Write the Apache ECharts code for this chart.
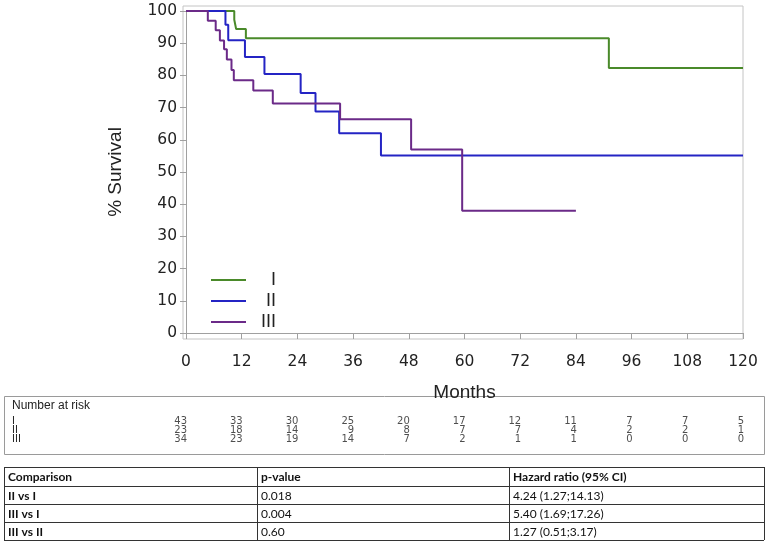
<!DOCTYPE html>
<html>
<head>
<meta charset="utf-8">
<script src="https://cdn.jsdelivr.net/npm/echarts@6/dist/echarts.min.js"></script>
<style>
html,body{margin:0;padding:0;background:#fff;}
#c{width:767px;height:542px;}
</style>
</head>
<body>
<div id="c"></div>
<script>
// ---- Data ----
const groups = ['I', 'II', 'III'];
const timesI = [0, 10.4, 10.8, 12.9, 91.1, 120];
const survI = [100, 97.3, 94.4, 91.5, 82.3, 82.3];
const timesII = [0, 8.5, 9.1, 12.7, 16.9, 24.7, 27.9, 33.0, 42.0, 120];
const survII = [100, 95.7, 90.9, 85.7, 80.4, 74.5, 68.8, 62.0, 55.1, 55.1];
const timesIII = [0, 4.7, 6.4, 7.3, 8.2, 8.8, 9.8, 10.3, 14.5, 18.7, 33.2, 48.5, 59.5, 84];
const survIII = [100, 97.0, 94.0, 90.8, 88.1, 84.9, 81.7, 78.5, 75.3, 71.3, 66.4, 57.0, 38.0, 38.0];

const riskTimes = [0, 12, 24, 36, 48, 60, 72, 84, 96, 108, 120];
const riskI = [43, 33, 30, 25, 20, 17, 12, 11, 7, 7, 5];
const riskII = [23, 18, 14, 9, 8, 7, 7, 4, 2, 2, 1];
const riskIII = [34, 23, 19, 14, 7, 2, 1, 1, 0, 0, 0];

const cmpHeader = ['Comparison', 'p-value', 'Hazard ratio (95% CI)'];
const cmpNames = ['II vs I', 'III vs I', 'III vs II'];
const cmpP = ['0.018', '0.004', '0.60'];
const cmpHR = ['4.24 (1.27;14.13)', '5.40 (1.69;17.26)', '1.27 (0.51;3.17)'];

const colors = ['#4a8a2a', '#2424c4', '#6b2a88'];

// ---- Build ----
function pairs(t, s) { return t.map((x, i) => [x, s[i]]); }
const curves = [pairs(timesI, survI), pairs(timesII, survII), pairs(timesIII, survIII)];
const risks = [riskI, riskII, riskIII];

const FONT = "'Liberation Sans', Arial, sans-serif";
const WFONT = "'DejaVu Sans', sans-serif";
const TFONT = "Lato, 'Noto Sans', sans-serif";

const series = curves.map((d, i) => ({
  name: groups[i], type: 'line', step: 'end', data: d,
  xAxisIndex: 0, yAxisIndex: 0,
  symbol: 'none', showSymbol: false,
  lineStyle: { color: colors[i], width: 2 },
  itemStyle: { color: colors[i] },
  emphasis: { disabled: true }, silent: true, z: 3
}));

const riskData = [];
risks.forEach((arr, r) => arr.forEach((v, k) => riskData.push([riskTimes[k], r, v])));
series.push({
  type: 'scatter', xAxisIndex: 1, yAxisIndex: 1, symbolSize: 0,
  data: riskData, silent: true,
  label: {
    show: true, position: 'left', distance: -1,
    formatter: p => String(p.value[2]),
    fontFamily: WFONT, fontSize: 10, color: '#222', verticalAlign: 'middle', lineHeight: 8
  }
});

// table graphics
const colX = [4, 257, 509, 764];
const rowY = [467, 486, 504, 522, 540];
const g = [];
// frame of plot (top/right)
g.push({ type: 'rect', shape: { x: 183, y: 6, width: 560, height: 333 },
  style: { fill: 'none', stroke: '#c4c4c4', lineWidth: 1 }, z: 0, silent: true });
// number at risk box
g.push({ type: 'rect', shape: { x: 4.5, y: 396.5, width: 760, height: 58 },
  style: { fill: 'none', stroke: '#9a9a9a', lineWidth: 1 }, z: 0, silent: true });
g.push({ type: 'text', x: 12, y: 406, style: { text: 'Number at risk', font: '12px ' + FONT, fill: '#222', verticalAlign: 'middle' }, z: 5 });
const riskRowY = [421.4, 430.2, 439];
groups.forEach((n, i) => g.push({ type: 'text', x: 12, y: riskRowY[i],
  style: { text: n, font: '10px ' + WFONT, fill: '#222', verticalAlign: 'middle' }, z: 5 }));
// comparison table lines
rowY.forEach(y => g.push({ type: 'line', shape: { x1: colX[0], y1: y + 0.5, x2: colX[3], y2: y + 0.5 },
  style: { stroke: '#333', lineWidth: 1 }, silent: true }));
colX.forEach(x => g.push({ type: 'line', shape: { x1: x + 0.5, y1: rowY[0], x2: x + 0.5, y2: rowY[4] },
  style: { stroke: '#333', lineWidth: 1 }, silent: true }));
const rows = [cmpHeader].concat(cmpNames.map((n, i) => [n, cmpP[i], cmpHR[i]]));
rows.forEach((r, ri) => {
  const yc = (rowY[ri] + rowY[ri + 1]) / 2 + 1;
  r.forEach((txt, ci) => {
    const bold = ri === 0 || ci === 0;
    g.push({ type: 'text', x: colX[ci] + 4, y: yc,
      style: { text: txt, font: (bold ? 'bold ' : '') + '12px ' + TFONT, fill: '#111', verticalAlign: 'middle' }, z: 5 });
  });
});

const chart = echarts.init(document.getElementById('c'), null, { renderer: 'canvas' });
chart.setOption({
  animation: false,
  backgroundColor: '#fff',
  grid: [
    { left: 186, right: 24, top: 11, bottom: 209 },
    { left: 186, right: 24, top: 421.4, height: 17.6 }
  ],
  xAxis: [
    {
      gridIndex: 0, type: 'value', min: 0, max: 120, interval: 12, offset: 6,
      name: 'Months', nameLocation: 'middle', nameGap: 44,
      nameTextStyle: { fontFamily: FONT, fontSize: 19, color: '#222' },
      axisLine: { show: true, lineStyle: { color: '#a0a0a0', width: 1 } },
      axisTick: { show: true, length: 6, lineStyle: { color: '#a0a0a0' } },
      axisLabel: { fontFamily: WFONT, fontSize: 15.5, color: '#222', margin: 15 },
      splitLine: { show: false }
    },
    { gridIndex: 1, type: 'value', min: 0, max: 120, show: false }
  ],
  yAxis: [
    {
      gridIndex: 0, type: 'value', min: 0, max: 100, interval: 10, offset: 3,
      name: '% Survival', nameLocation: 'middle', nameGap: 58,
      nameTextStyle: { fontFamily: FONT, fontSize: 19, color: '#222' },
      axisLine: { show: true, lineStyle: { color: '#a0a0a0', width: 1 } },
      axisTick: { show: true, length: 6, lineStyle: { color: '#a0a0a0' } },
      axisLabel: { fontFamily: WFONT, fontSize: 15.5, color: '#222', margin: 6 },
      splitLine: { show: false }
    },
    { gridIndex: 1, type: 'value', min: 0, max: 2, inverse: true, show: false }
  ],
  legend: {
    data: groups, orient: 'vertical', left: 206, top: 265,
    itemWidth: 35, itemHeight: 14, itemGap: 1,
    icon: 'path://M0,6 L35,6 L35,8 L0,8 Z',
    selectedMode: false,
    formatter: n => '{r|' + n + '}',
    textStyle: { fontFamily: FONT, fontSize: 18, color: '#222', lineHeight: 20,
      rich: { r: { width: 25, align: 'right', fontFamily: FONT, fontSize: 18, color: '#222', lineHeight: 20 } } }
  },
  series: series,
  graphic: g
});
</script>
</body>
</html>
